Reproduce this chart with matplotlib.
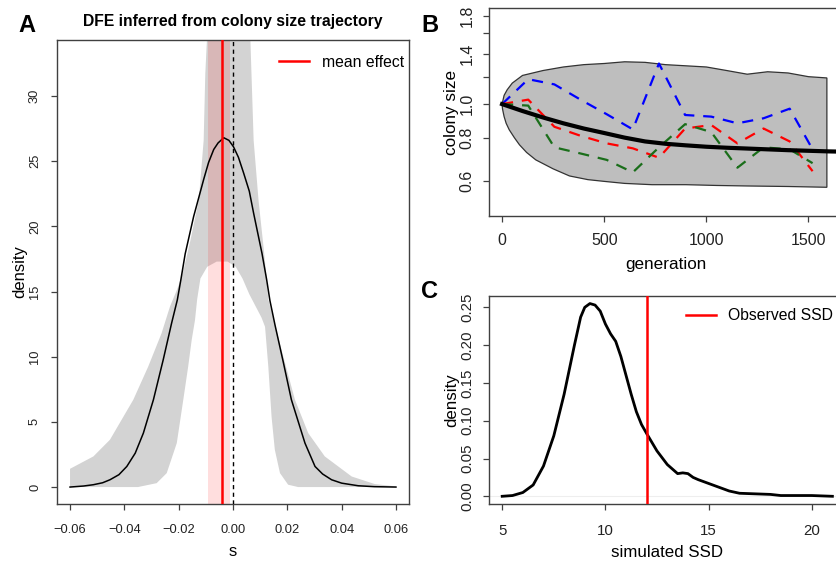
import matplotlib
matplotlib.use("Agg")
import matplotlib.pyplot as plt

plt.rcParams["font.family"] = ["Liberation Sans", "DejaVu Sans"]

W, H = 836, 561

# Panel A: DFE density (s, density)
a_s = [-0.06, -0.055, -0.0514, -0.048, -0.0453, -0.042, -0.0391, -0.036, -0.033,
       -0.0293, -0.0257, -0.0226, -0.0205, -0.0192, -0.0176, -0.0145, -0.0108,
       -0.009, -0.0071, -0.0055, -0.0034, -0.0015, 0.0002, 0.002, 0.0039, 0.006,
       0.0076, 0.0107, 0.0124, 0.0136, 0.0155, 0.0185, 0.0215, 0.0265, 0.0302,
       0.033, 0.0363, 0.040, 0.0461, 0.052, 0.06]
a_dens = [0.0, 0.08, 0.18, 0.33, 0.56, 0.95, 1.58, 2.6, 4.14,
          6.7, 9.76, 12.58, 14.36, 15.9, 17.9, 20.75, 23.6,
          24.9, 25.9, 26.4, 26.8, 26.6, 26.1, 25.3, 24.1, 22.7,
          21.0, 17.9, 15.9, 14.3, 12.4, 9.6, 6.7, 3.37, 1.58,
          1.0, 0.56, 0.3, 0.1, 0.03, 0.0]
# credible band, upper and lower edge
a_up_s = [-0.06, -0.0514, -0.0453, -0.0367, -0.0312, -0.0263, -0.0232, -0.0205,
          -0.0185, -0.0157, -0.0126, -0.0108, -0.0102, -0.0096, -0.009, 0.006,
          0.0064, 0.0076, 0.0094, 0.0112, 0.0122, 0.0130, 0.0179, 0.0228, 0.0277,
          0.0338, 0.0437, 0.0522, 0.06]
a_up_d = [1.4, 2.35, 3.63, 6.7, 9.25, 11.8, 13.85, 15.2,
          16.4, 18.9, 22.0, 26.6, 31.7, 34.3, 40, 40,
          34.3, 26.6, 22.0, 18.5, 16.4, 14.4, 10.5, 6.7, 4.14,
          2.35, 0.81, 0.23, 0.05]
a_lo_s = [-0.06, -0.035, -0.0281, -0.0244, -0.0207, -0.0183, -0.0165, -0.0152,
          -0.014, -0.0132, -0.012, -0.0095, -0.006, -0.002, 0.001, 0.0035, 0.006,
          0.0085, 0.0105, 0.0118, 0.0130, 0.0142, 0.0154, 0.0173, 0.0203, 0.024, 0.06]
a_lo_d = [0, 0, 0.3, 1.07, 3.37, 6.7, 9.25, 11.3,
          12.8, 14.4, 16.0, 16.9, 17.3, 17.3, 16.9, 16.0, 14.8,
          13.8, 13.0, 12.3, 9.25, 5.4, 2.86, 1.07, 0.18, 0.0, 0.0]
mean_effect = -0.0041
mean_ci = (-0.0092, -0.0012)
a_xticks = [-0.06, -0.04, -0.02, 0.0, 0.02, 0.04, 0.06]
a_xlabels = ["\u22120.06", "\u22120.04", "\u22120.02", "0.00", "0.02", "0.04", "0.06"]
a_yticks = [0, 5, 10, 15, 20, 25, 30]

# Panel B: colony size trajectories
b_up_g = [0, 10, 25, 50, 100, 200, 300, 400, 500, 600, 700, 800, 900, 1000,
          1100, 1200, 1300, 1400, 1500, 1590]
b_up_v = [1.0, 1.06, 1.10, 1.15, 1.21, 1.25, 1.28, 1.30, 1.31, 1.325, 1.32, 1.30,
          1.29, 1.28, 1.25, 1.22, 1.24, 1.23, 1.20, 1.19]
b_lo_g = [0, 2, 5, 10, 20, 35, 60, 85, 120, 165, 250, 330, 420, 500, 600, 734,
          900, 1050, 1200, 1400, 1590]
b_lo_v = [1.0, 0.97, 0.95, 0.92, 0.88, 0.843, 0.80, 0.763, 0.725, 0.69, 0.65, 0.62,
          0.605, 0.598, 0.59, 0.585, 0.585, 0.582, 0.58, 0.578, 0.575]
b_mean_g = [0, 100, 200, 300, 400, 500, 600, 700, 800, 900, 1000, 1100, 1200,
            1300, 1400, 1500, 1600, 1700]
b_mean_v = [1.0, 0.955, 0.915, 0.88, 0.85, 0.825, 0.80, 0.78, 0.768, 0.76, 0.753,
            0.748, 0.744, 0.74, 0.736, 0.733, 0.73, 0.728]
b_gen = [0, 128, 256, 384, 512, 640, 768, 896, 1024, 1152, 1280, 1408, 1520]
b_blue = [1.0, 1.18, 1.14, 1.03, 0.935, 0.845, 1.31, 0.93, 0.92, 0.88, 0.91, 0.97, 0.74]
b_red = [1.0, 1.03, 0.86, 0.81, 0.77, 0.745, 0.70, 0.85, 0.87, 0.77, 0.85, 0.78, 0.64]
b_green = [1.0, 0.99, 0.75, 0.72, 0.69, 0.635, 0.75, 0.875, 0.83, 0.655, 0.75, 0.74, 0.675]
b_yticks = [0.6, 0.8, 1.0, 1.2, 1.4, 1.6, 1.8]
b_ylabels = ["0.6", "0.8", "1.0", "", "1.4", "", "1.8"]

# Panel C: simulated SSD density
c_x = [5.0, 5.5, 6.0, 6.5, 7.0, 7.5, 8.0, 8.5, 8.8, 9.0, 9.25, 9.5, 9.75, 10.0,
       10.25, 10.5, 10.75, 11.0, 11.25, 11.5, 11.75, 12.0, 12.5, 13.0, 13.5,
       13.75, 14.0, 14.25, 14.5, 15.0, 15.5, 16.0, 16.5, 17.0, 17.5, 18.0, 18.5,
       19.0, 20.0, 21.0]
c_dens = [0.0, 0.001, 0.005, 0.015, 0.04, 0.08, 0.135, 0.2, 0.237, 0.25, 0.255,
          0.253, 0.245, 0.228, 0.215, 0.205, 0.185, 0.16, 0.135, 0.112, 0.095,
          0.083, 0.06, 0.042, 0.03, 0.031, 0.030, 0.025, 0.022, 0.017, 0.012,
          0.007, 0.004, 0.0035, 0.003, 0.0025, 0.001, 0.001, 0.001, 0.0]
observed_ssd = 12.0
c_xticks = [5, 10, 15, 20]
c_yticks = [0.0, 0.05, 0.10, 0.15, 0.20, 0.25]


def rect(x0, y0, x1, y1):
    return [x0 / W, 1 - y1 / H, (x1 - x0) / W, (y1 - y0) / H]


def style_axes(ax, tick_size, xpad, ypad):
    for sp in ax.spines.values():
        sp.set_color("#404040")
        sp.set_linewidth(1.0)
    ax.tick_params(direction="out", length=4.5, width=0.9, color="#404040",
                   labelsize=tick_size, labelcolor="#222222")
    ax.tick_params(axis="x", pad=xpad)
    ax.tick_params(axis="y", pad=ypad, labelrotation=90)
    for t in ax.get_yticklabels():
        t.set_va("center")
    ax.minorticks_off()


fig = plt.figure(figsize=(W / 100, H / 100), dpi=100)

# ---- A
ax = fig.add_axes(rect(57, 40, 409, 504))
ax.fill(a_up_s + a_lo_s[::-1], a_up_d + a_lo_d[::-1], color="#d3d3d3", lw=0, zorder=1)
ax.axvspan(mean_ci[0], mean_ci[1], color="red", alpha=0.13, lw=0, zorder=2)
ax.plot(a_s, a_dens, color="black", lw=1.1, zorder=3)
ax.axvline(0, color="black", lw=1.0, ls=(0, (3, 2.5)), zorder=3)
ax.axvline(mean_effect, color="red", lw=1.8, zorder=4, label="mean effect")
ax.set_xlim(-0.0648, 0.0648)
ax.set_ylim(-1.3, 34.3)
ax.set_xticks(a_xticks)
ax.set_xticklabels(a_xlabels)
ax.set_yticks(a_yticks)
ax.set_xlabel("s", fontsize=12, labelpad=6)
ax.set_ylabel("density", fontsize=12, labelpad=1)
style_axes(ax, 9.3, 10, 7)
ax.legend(loc="upper right", bbox_to_anchor=(0.985, 0.968), frameon=False,
          fontsize=11.3, handlelength=1.9, handletextpad=0.8, borderpad=0,
          borderaxespad=0)
ax.set_title("DFE inferred from colony size trajectory", fontsize=11.3,
             fontweight="bold", pad=10)

# ---- B
ax = fig.add_axes(rect(489, 8, 842, 216))
ax.set_yscale("log")
ax.fill(b_up_g + b_lo_g[::-1], b_up_v + b_lo_v[::-1], facecolor="#bebebe",
        edgecolor="#333333", lw=0.9, zorder=1)
ax.plot(b_mean_g, b_mean_v, color="black", lw=3, zorder=3)
ax.plot(b_gen, b_blue, color="#0000ff", lw=1.6, ls=(0, (5, 4)), zorder=2)
ax.plot(b_gen, b_red, color="#ff0000", lw=1.6, ls=(0, (5, 4)), zorder=2)
ax.plot(b_gen, b_green, color="#1a6e1a", lw=1.6, ls=(0, (5, 4)), zorder=2)
ax.set_xlim(-64, 1664)
ax.set_ylim(0.475, 1.895)
ax.set_xticks([0, 500, 1000, 1500])
ax.set_yticks(b_yticks)
ax.set_yticklabels(b_ylabels)
ax.set_xlabel("generation", fontsize=12.3, labelpad=6)
ax.set_ylabel("colony size", fontsize=12.3, labelpad=0)
style_axes(ax, 11.5, 8, 6)

# ---- C
ax = fig.add_axes(rect(489, 296, 845.6, 504))
ax.plot(c_x, c_dens, color="black", lw=2.0, zorder=3)
ax.axhline(0, color="#eeeeee", lw=0.8, zorder=1)
ax.axvline(observed_ssd, color="red", lw=1.8, zorder=4, label="Observed SSD")
ax.set_xlim(4.36, 21.64)
ax.set_ylim(-0.0102, 0.265)
ax.set_xticks(c_xticks)
ax.set_yticks(c_yticks)
ax.set_yticklabels(["%.2f" % v for v in c_yticks])
ax.set_xlabel("simulated SSD", fontsize=12.2, labelpad=5)
ax.set_ylabel("density", fontsize=12.2, labelpad=1)
style_axes(ax, 10.8, 10, 6)
ax.legend(loc="upper right", bbox_to_anchor=(0.965, 0.94), frameon=False,
          fontsize=11.3, handlelength=1.9, handletextpad=0.8, borderpad=0,
          borderaxespad=0)

# panel letters
for letter, x, y in [("A", 27, 25), ("B", 430, 25), ("C", 430, 291)]:
    fig.text(x / W, 1 - y / H, letter, fontsize=17, fontweight="bold",
             ha="center", va="center")

fig.savefig("out.png", dpi=100)
